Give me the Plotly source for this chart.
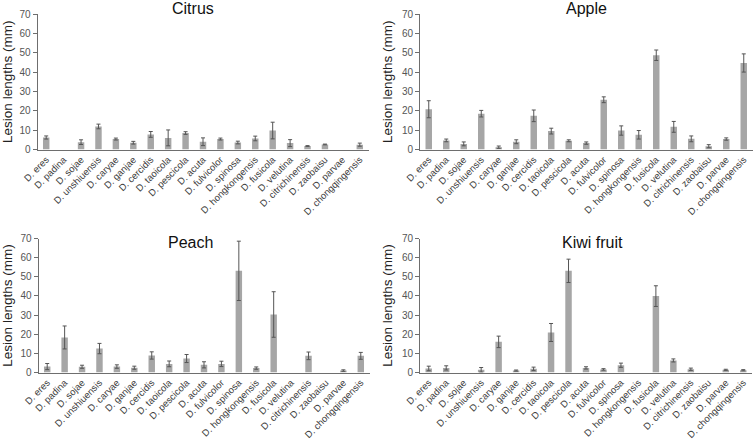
import plotly.graph_objects as go

species = ["D. eres", "D. padina", "D. sojae", "D. unshiuensis", "D. caryae", "D. ganjae",
           "D. cercidis", "D. taoicola", "D. pescicola", "D. acuta", "D. fulvicolor",
           "D. spinosa", "D. hongkongensis", "D. fusicola", "D. velutina",
           "D. citrichinensis", "D. zaobaisu", "D. parvae", "D. chongqingensis"]

citrus_mean = [6.2, None, 3.8, 11.9, 5.4, 3.5, 7.8, 6.0, 8.5, 4.0, 5.4, 3.6, 5.7, 9.8, 3.3, 1.8, 2.6, None, 2.5]
citrus_err = [0.8, None, 1.2, 1.2, 0.5, 0.7, 1.5, 4.1, 0.7, 2.0, 0.5, 0.7, 1.2, 4.3, 1.8, 0.2, 0.2, None, 0.8]

apple_mean = [20.8, 4.7, 2.9, 18.5, 1.2, 4.0, 17.4, 9.5, 4.5, 3.3, 25.7, 9.8, 7.6, 48.7, 11.7, 5.5, 1.7, 5.4, 44.7]
apple_err = [4.4, 0.7, 1.0, 1.7, 0.6, 1.0, 3.0, 1.5, 0.5, 0.6, 1.5, 2.4, 2.2, 2.7, 2.8, 1.5, 0.8, 0.6, 4.7]

peach_mean = [3.1, 18.3, 3.0, 12.5, 3.1, 2.5, 8.9, 4.5, 7.3, 4.0, 4.5, 53.1, 2.3, 30.3, None, 8.7, None, 1.0, 8.7]
peach_err = [1.6, 6.0, 0.8, 2.7, 0.9, 0.8, 1.9, 1.5, 2.1, 1.6, 1.4, 15.5, 0.6, 11.9, None, 2.0, None, 0.4, 1.8]

kiwi_mean = [2.1, 2.4, None, 1.4, 16.0, 1.0, 1.9, 20.9, 53.1, 2.4, 1.6, 3.8, None, 39.9, 6.3, 1.7, None, 1.4, 1.2]
kiwi_err = [1.2, 1.1, None, 1.2, 3.0, 0.3, 0.9, 4.7, 6.1, 0.6, 0.4, 1.1, None, 5.4, 0.8, 0.6, None, 0.3, 0.3]

panels = [("Citrus", citrus_mean, citrus_err), ("Apple", apple_mean, apple_err),
          ("Peach", peach_mean, peach_err), ("Kiwi fruit", kiwi_mean, kiwi_err)]

W, H = 754, 442
# pixel boxes (left, right, top, bottom) of each plot area
boxes = [(37.5, 368.5, 14, 149.5), (420, 752.5, 14, 149.5),
         (38.5, 369.5, 238.5, 372.5), (420, 752, 238.5, 372.5)]
title_pos = [(193, 8.5), (586, 8.5), (190, 242), (592, 242)]

FONT = "Liberation Sans, Arial, sans-serif"
fig = go.Figure()
layout = dict(width=W, height=H, margin=dict(l=0, r=0, t=0, b=0, autoexpand=False),
              paper_bgcolor="white", plot_bgcolor="white", showlegend=False,
              bargap=0.63, font=dict(family=FONT, color="#404040"), annotations=[])

for i, (name, mean, err) in enumerate(panels):
    k = "" if i == 0 else str(i + 1)
    fig.add_trace(go.Bar(x=species, y=mean, xaxis="x" + k, yaxis="y" + k,
                         marker=dict(color="#a6a6a6", line=dict(width=0)),
                         error_y=dict(type="data", array=err, visible=True,
                                      color="#555555", thickness=1, width=2)))
    l, r, t, b = boxes[i]
    layout["xaxis" + k] = dict(domain=[l / W, r / W], anchor="y" + k, automargin=False,
                               showline=True, linecolor="#6e6e6e", linewidth=1,
                               ticks="", tickangle=-45, showgrid=False,
                               ticklabelstandoff=0,
                               tickfont=dict(size=9.5, color="#404040", family=FONT),
                               range=[-0.5, 18.5], fixedrange=True)
    layout["yaxis" + k] = dict(domain=[1 - b / H, 1 - t / H], anchor="x" + k, automargin=False,
                               range=[0, 70], dtick=10, showgrid=False, zeroline=False,
                               showline=True, linecolor="#6e6e6e", linewidth=1,
                               ticks="outside", ticklen=4, tickcolor="#6e6e6e",
                               tickfont=dict(size=10, color="#555555", family=FONT),
                               title=dict(text="Lesion lengths (mm)",
                                          font=dict(size=13.5, color="#222222", family=FONT),
                                          standoff=6))
    tx, ty = title_pos[i]
    layout["annotations"].append(dict(text=name, x=tx / W, y=1 - ty / H, xref="paper",
                                      yref="paper", showarrow=False, xanchor="center",
                                      yanchor="middle",
                                      font=dict(size=16, color="#111111", family=FONT)))

fig.update_layout(**layout)
fig.write_html("out.html", config={"displayModeBar": False},
               post_script="document.body.style.margin='0';document.body.style.overflow='hidden';")
